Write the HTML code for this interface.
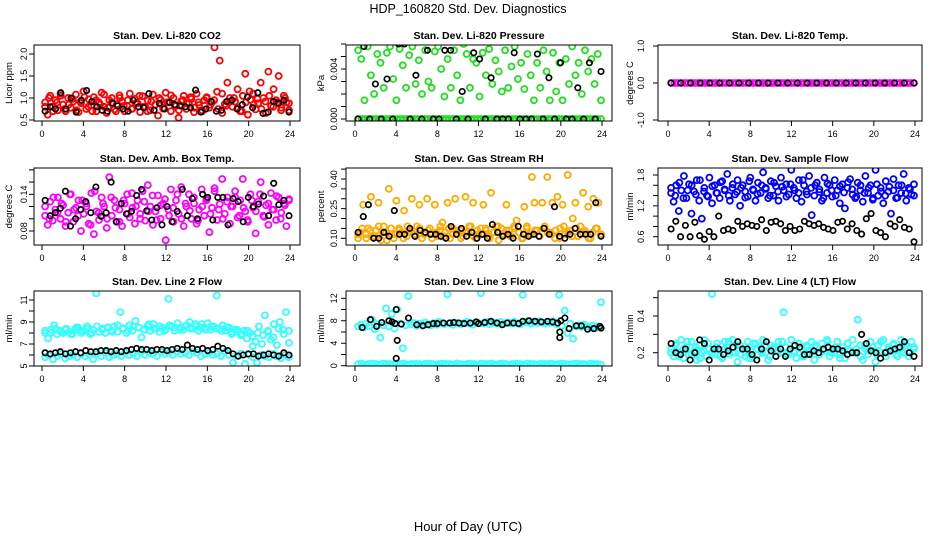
<!DOCTYPE html>
<html><head><meta charset="utf-8"><style>
body{margin:0;background:#fff;}
svg{display:block;font-family:"Liberation Sans",Arial,sans-serif;}
</style></head><body>
<svg id="chart" width="936" height="540" viewBox="0 0 936 540">
<text x="468" y="13" text-anchor="middle" font-size="12.5">HDP_160820  Std. Dev. Diagnostics</text>
<text x="468" y="531" text-anchor="middle" font-size="13">Hour of Day (UTC)</text>
</svg>
<script>
// ---------- data ----------
const xTicks=[0,4,8,12,16,20,24];
const co2Red=[0.9,0.62,1.05,0.8,0.95,0.72,1.1,0.85,0.7,1.0,0.78,0.92,1.08,0.68,0.88,1.15,0.75,0.97,0.83,1.02,0.7,0.9,1.12,0.8,0.66,0.95,1.0,0.74,0.86,1.06,0.92,0.7,0.82,1.1,0.76,0.98,0.88,0.68,1.04,0.8,0.94,0.72,1.08,0.85,0.6,0.96,0.78,1.12,0.9,0.7,1.0,0.82,0.55,0.93,1.05,0.75,0.88,0.98,0.68,1.1,0.84,0.72,0.95,1.02,0.78,0.9,2.15,1.14,1.85,0.66,0.86,1.35,1.0,0.8,0.92,1.2,0.7,1.05,1.55,0.62,0.96,1.1,0.74,0.88,1.35,1.0,0.66,1.6,0.82,1.2,0.95,1.5,0.78,1.05,0.9,0.72];
const co2Red2=[0.8,1.0,0.7,0.9,1.05,0.75,0.85,0.98,0.72,0.92,1.02,0.8,0.7,0.95,0.85,1.08,0.78,0.9,0.7,1.0,0.82,0.95,0.75,0.88,1.05,0.8,0.7,0.92,0.85,1.0,0.76,0.9,1.06,0.82,0.72,0.95,0.88,1.02,0.78,0.9,0.7,1.0,0.85,0.95,0.75,1.1,0.82,0.92,1.0,0.78,0.7,0.9,1.15,0.85,0.98,0.75,0.92,1.05,0.8,0.9,0.72,1.0,0.88];
const co2Black=[0.7,0.8,0.75,1.12,0.75,1.0,0.68,0.95,1.17,0.92,0.8,0.72,0.7,0.88,0.82,0.75,0.7,0.95,0.8,0.78,1.1,0.72,0.88,0.75,0.9,0.85,0.82,0.8,0.78,1.18,0.68,0.75,0.92,0.7,0.72,0.92,0.95,0.75,0.85,1.02,0.78,1.12,0.65,0.68,0.92,0.88,0.95,0.68];
const presGreen=[0.0055,0.0048,0.0015,0.0058,0.0035,0.002,0.0052,0.0045,0.0025,0.0053,0.0058,0.0032,0.0015,0.0056,0.0043,0.0025,0.0051,0.0058,0.0028,0.0047,0.002,0.0055,0.003,0.0025,0.0054,0.0058,0.004,0.0018,0.0048,0.0025,0.0055,0.0035,0.0015,0.006,0.0052,0.0025,0.0048,0.0045,0.0018,0.0053,0.0035,0.0056,0.0028,0.0047,0.0038,0.0022,0.0055,0.0025,0.0042,0.0058,0.0032,0.0045,0.0024,0.0052,0.0035,0.0015,0.0045,0.0025,0.0055,0.0038,0.0015,0.0053,0.0022,0.0045,0.0015,0.0048,0.0028,0.0058,0.0035,0.0045,0.002,0.0055,0.0038,0.0048,0.0028,0.0052,0.0015];
const presGreenZero=[0,0,0,0,0,0,0,0,0,0,0,0,0,0,0,0,0,0,0,0,0,0,0,0,0,0,0,0,0,0,0,0,0,0,0,0,0,0,0,0,0,0,0,0,0,0,0,0,0,0,0,0,0,0,0,0,0,0,0,0,0,0,0,0,0,0,0,0,0,0];
const presBlack=[0,0.0058,0,0.0028,0,0.0032,0,0.006,0.006,0,0.0035,0,0.0055,0,0,0.0055,0.0055,0,0.0022,0,0.0053,0.0048,0,0.0033,0,0,0,0.0053,0,0,0,0.0052,0,0.0033,0,0.0045,0,0,0.0025,0,0.0045,0,0.0038];
const tempMag=[0,0,0,0,0,0,0,0,0,0,0,0,0,0,0,0,0,0,0,0,0,0,0,0,0,0,0,0,0,0,0,0,0,0,0,0,0,0,0,0,0,0,0,0,0,0,0,0,0,0,0,0,0,0,0,0,0,0,0,0,0,0,0,0,0,0,0,0,0,0,0,0];
const tempBlack=[0,0,0,0,0,0,0,0,0,0,0,0,0,0,0,0,0,0,0,0,0,0,0,0,0,0];
const boxMag=[0.105,0.09,0.128,0.097,0.115,0.135,0.1,0.122,0.088,0.11,0.14,0.095,0.118,0.13,0.08,0.108,0.125,0.092,0.142,0.075,0.112,0.098,0.135,0.12,0.085,0.168,0.105,0.13,0.095,0.115,0.088,0.125,0.14,0.102,0.118,0.092,0.13,0.108,0.145,0.097,0.155,0.12,0.09,0.112,0.138,0.1,0.125,0.065,0.115,0.148,0.095,0.13,0.108,0.152,0.088,0.12,0.14,0.1,0.125,0.092,0.115,0.148,0.105,0.133,0.078,0.118,0.15,0.098,0.124,0.165,0.108,0.135,0.092,0.12,0.145,0.102,0.13,0.165,0.112,0.095,0.14,0.118,0.076,0.128,0.16,0.105,0.122,0.09,0.142,0.115,0.098,0.135,0.11,0.125,0.088,0.13];
const boxMag2=[0.12,0.1,0.135,0.11,0.125,0.095,0.14,0.115,0.105,0.13,0.12,0.09,0.145,0.11,0.125,0.1,0.135,0.118,0.095,0.13,0.108,0.142,0.12,0.1,0.128,0.112,0.138,0.098,0.122,0.132,0.105,0.118,0.14,0.1,0.125,0.113,0.135,0.097,0.12,0.13,0.108,0.145,0.115,0.1,0.128,0.12,0.135,0.105,0.118,0.098,0.13,0.112,0.14,0.103,0.125,0.115,0.137,0.1,0.122,0.132];
const boxBlack=[0.13,0.105,0.11,0.117,0.145,0.088,0.1,0.115,0.128,0.11,0.152,0.104,0.11,0.16,0.095,0.125,0.108,0.112,0.138,0.148,0.113,0.098,0.118,0.09,0.12,0.095,0.112,0.148,0.105,0.133,0.1,0.14,0.135,0.098,0.135,0.135,0.09,0.133,0.128,0.095,0.135,0.12,0.124,0.137,0.105,0.158,0.123,0.13,0.105];
const rhOrange=[0.1,0.13,0.27,0.12,0.15,0.31,0.11,0.14,0.28,0.09,0.16,0.13,0.35,0.12,0.1,0.29,0.15,0.13,0.24,0.11,0.14,0.3,0.12,0.16,0.27,0.1,0.13,0.3,0.15,0.12,0.27,0.11,0.14,0.18,0.13,0.28,0.1,0.15,0.3,0.12,0.14,0.11,0.31,0.13,0.16,0.28,0.1,0.12,0.15,0.27,0.14,0.11,0.33,0.13,0.16,0.09,0.15,0.12,0.27,0.14,0.11,0.16,0.19,0.13,0.1,0.26,0.15,0.12,0.41,0.28,0.14,0.11,0.28,0.16,0.41,0.13,0.28,0.1,0.31,0.15,0.27,0.12,0.42,0.14,0.2,0.28,0.11,0.16,0.33,0.13,0.26,0.1,0.3,0.15,0.28,0.12];
const rhOrange2=[0.12,0.15,0.1,0.14,0.11,0.16,0.13,0.09,0.15,0.12,0.14,0.1,0.16,0.13,0.11,0.15,0.12,0.14,0.1,0.13,0.16,0.11,0.15,0.12,0.14,0.1,0.13,0.16,0.11,0.14,0.12,0.15,0.1,0.13,0.16,0.12,0.14,0.11,0.15,0.13,0.1,0.16,0.12,0.14,0.11,0.15,0.13,0.12,0.14,0.1,0.16,0.13,0.11,0.15,0.12,0.14,0.1,0.13,0.15,0.12];
const rhBlack=[0.13,0.21,0.27,0.1,0.1,0.13,0.11,0.24,0.12,0.12,0.15,0.11,0.14,0.13,0.12,0.12,0.11,0.1,0.16,0.12,0.15,0.11,0.13,0.1,0.12,0.1,0.17,0.13,0.11,0.12,0.1,0.16,0.12,0.11,0.12,0.11,0.15,0.12,0.26,0.11,0.1,0.12,0.15,0.12,0.12,0.12,0.28,0.11];
const sfBlue=[1.45,1.28,1.6,1.1,1.5,1.78,1.35,1.62,1.05,1.48,1.7,1.3,0.95,1.55,1.4,1.75,1.25,1.6,1.45,1.35,1.68,1.5,1.82,1.3,1.55,1.42,1.7,1.2,1.6,1.48,1.38,1.75,1.52,1.3,1.65,1.45,1.85,1.55,1.35,1.68,1.4,1.58,1.3,1.75,1.5,1.62,1.42,1.9,1.55,1.35,1.7,1.28,1.6,1.48,1.78,1.02,1.4,1.65,1.52,1.3,1.75,1.45,1.6,1.38,1.7,1.5,1.25,1.62,1.15,1.55,1.72,1.42,1.35,1.65,1.5,1.28,1.78,1.45,1.6,1.35,1.9,1.4,1.55,1.25,1.68,1.48,1.05,1.72,1.35,1.6,1.45,1.82,1.3,1.55,1.42,1.62];
const sfBlue2=[1.55,1.4,1.65,1.35,1.5,1.6,1.42,1.7,1.48,1.38,1.58,1.45,1.66,1.52,1.4,1.62,1.47,1.55,1.36,1.68,1.5,1.43,1.6,1.53,1.4,1.65,1.48,1.57,1.38,1.62,1.5,1.45,1.7,1.42,1.55,1.6,1.47,1.35,1.63,1.5,1.4,1.58,1.46,1.66,1.52,1.38,1.6,1.45,1.55,1.32,1.62,1.48,1.4,1.57,1.5,1.36,1.6,1.44,1.52,1.4];
const sfBlack=[0.75,0.9,0.6,0.82,0.6,0.88,0.62,0.55,0.7,0.6,1.0,0.72,0.75,0.72,0.9,0.8,0.85,0.82,0.8,0.93,0.72,0.88,0.9,0.85,0.72,0.8,0.72,0.75,0.9,0.85,0.82,0.85,0.78,0.75,0.72,0.88,0.9,0.75,0.85,0.72,0.65,0.95,1.05,0.72,0.68,0.6,0.85,0.8,0.93,0.78,0.75,0.5];
const l2CyanHigh=[8.0,7.5,8.3,8.7,7.9,8.2,8.0,8.4,8.1,7.9,8.3,8.5,8.0,8.2,8.6,7.9,8.3,11.6,8.1,8.4,8.0,8.5,8.2,8.6,8.1,9.9,8.4,8.0,8.7,8.2,9.1,8.5,7.6,8.3,8.6,8.2,8.8,8.4,8.1,8.5,8.3,11.1,8.6,8.2,8.9,8.5,8.3,8.7,9.0,8.4,8.6,8.2,8.8,8.5,8.9,8.3,8.6,11.4,8.4,8.7,8.2,8.5,7.9,8.3,8.1,7.8,8.2,7.5,8.0,6.8,7.2,8.6,7.0,9.6,8.2,7.4,8.8,6.9,9.0,8.3,9.9,7.1];
const l2CyanHigh2=[8.2,8.0,8.4,8.1,8.3,7.9,8.5,8.2,8.4,8.0,8.6,8.3,8.5,8.1,8.7,8.4,8.2,8.6,8.5,8.3,8.8,8.4,8.6,8.2,8.7,8.5,8.3,8.6,8.4,8.8,8.5,8.3,8.6,8.4,8.2,8.5,8.1,8.3,7.9,8.2,7.7,8.0,7.8,8.1,7.6,8.4,7.9,8.2];
const l2CyanLow=[5.8,6.0,5.6,5.9,6.1,5.7,5.9,6.0,5.8,6.1,5.9,6.0,5.6,6.1,5.9,6.2,5.8,6.0,6.1,5.9,6.2,6.0,6.1,5.9,6.3,6.0,6.2,6.1,5.9,6.3,6.1,6.2,6.0,6.3,6.1,6.2,6.0,6.3,6.2,5.9,6.1,6.2,6.0,6.1,5.9,6.3,6.0,5.3,5.9,6.1,5.2,6.0,5.8,5.3,6.0,5.9,5.8,6.1,5.9,5.7,6.0,5.8];
const l2Black=[6.2,6.1,6.2,6.3,6.1,6.2,6.3,6.2,6.4,6.3,6.3,6.4,6.4,6.3,6.4,6.3,6.4,6.5,6.6,6.5,6.5,6.4,6.5,6.5,6.4,6.5,6.6,6.5,6.9,6.6,6.5,6.6,6.4,6.5,6.8,6.6,6.4,6.1,5.9,6.0,6.1,6.1,5.9,6.0,6.1,6.0,5.9,6.2,6.0];
const l3CyanHigh=[7.0,7.3,6.8,7.5,7.1,8.2,6.5,7.4,5.0,7.2,10.2,7.0,9.2,6.6,10.0,7.5,3.1,7.2,12.4,7.4,7.6,7.1,7.5,7.3,7.7,7.4,7.2,7.6,7.3,7.8,7.5,7.4,12.7,7.6,7.3,7.7,7.5,7.4,7.6,7.8,7.5,7.3,7.7,7.6,12.9,7.5,7.8,7.4,7.6,7.7,7.5,7.8,7.4,7.6,7.7,7.5,7.8,7.6,7.4,12.6,7.7,7.9,7.5,7.8,7.6,7.9,7.7,7.5,7.8,7.6,7.9,7.4,12.6,7.1,9.8,5.8,7.5,4.8,7.0,7.2,6.9,7.3,7.0,6.8,7.1,6.7,7.0,11.3];
const l3CyanZero=[0.3,0.4,0.2,0.3,0.4,0.3,0.2,0.4,0.3,0.3,0.2,0.4,0.3,0.4,0.2,0.3,0.3,0.4,0.2,0.3,0.4,0.3,0.2,0.3,0.4,0.3,0.3,0.2,0.4,0.3,0.2,0.3,0.4,0.3,0.2,0.4,0.3,0.3,0.4,0.2,0.3,0.4,0.3,0.2,0.3,0.4,0.3,0.2,0.4,0.3,0.3,0.2,0.4,0.3,0.3,0.4,0.2,0.3,0.4,0.3,0.2,0.3,0.4,0.3,0.3,0.2,0.4,0.3,0.3,0.2];
const l3BlackHours=[0.7,1.5,2.1,2.6,3.3,3.6,3.9,4.0,4.0,4.1,4.5,5.2,6.0,6.6,7.1,7.6,8.0,8.6,9.2,9.6,10.1,10.6,11.2,11.8,12.0,12.6,13.2,13.8,14.3,14.8,15.4,15.9,16.3,16.9,17.5,18.1,18.7,19.2,19.7,19.9,19.9,20.0,20.4,20.8,21.5,22.0,22.6,23.2,23.8,23.9];
const l3Black=[6.8,8.2,7.0,7.7,8.0,7.8,7.5,10.0,1.3,4.5,7.4,8.5,7.3,7.1,7.3,7.5,7.5,7.6,7.6,7.7,7.6,7.5,7.6,7.8,7.5,7.7,7.9,7.6,7.3,7.6,7.6,7.5,7.9,8.0,7.9,7.8,7.9,7.8,7.6,6.0,5.0,8.0,8.5,6.6,7.1,7.1,6.5,6.6,7.0,6.7];
const l4Cyan=[0.22,0.18,0.25,0.2,0.27,0.17,0.23,0.19,0.26,0.21,0.16,0.24,0.2,0.27,0.18,0.22,0.52,0.19,0.25,0.21,0.17,0.26,0.23,0.19,0.27,0.2,0.15,0.24,0.22,0.18,0.26,0.21,0.17,0.25,0.19,0.23,0.27,0.2,0.16,0.24,0.22,0.18,0.26,0.2,0.42,0.23,0.19,0.27,0.21,0.17,0.25,0.22,0.18,0.24,0.2,0.26,0.16,0.23,0.19,0.25,0.21,0.27,0.18,0.22,0.2,0.26,0.19,0.23,0.17,0.25,0.21,0.27,0.2,0.38,0.24,0.16,0.22,0.19,0.26,0.21,0.15,0.24,0.2,0.27,0.18,0.23,0.21,0.25,0.19,0.22,0.27,0.2,0.24,0.18,0.26,0.22];
const l4Cyan2=[0.2,0.24,0.18,0.22,0.26,0.19,0.23,0.17,0.21,0.25,0.2,0.23,0.18,0.22,0.26,0.2,0.24,0.19,0.21,0.17,0.25,0.22,0.2,0.24,0.18,0.23,0.21,0.26,0.19,0.22,0.2,0.25,0.18,0.23,0.21,0.24,0.19,0.22,0.26,0.2,0.23,0.17,0.21,0.25,0.2,0.22,0.18,0.24,0.21,0.23,0.19,0.26,0.2,0.22,0.24,0.18,0.21,0.25,0.2,0.23];
const l4Black=[0.25,0.2,0.19,0.22,0.16,0.2,0.27,0.25,0.16,0.22,0.22,0.19,0.21,0.23,0.26,0.22,0.22,0.19,0.16,0.22,0.26,0.21,0.18,0.22,0.18,0.22,0.24,0.23,0.19,0.19,0.21,0.2,0.22,0.23,0.22,0.22,0.21,0.19,0.2,0.2,0.3,0.25,0.21,0.2,0.17,0.2,0.21,0.22,0.23,0.26,0.2,0.18];
const yt1=[0.5,1.0,1.5,2.0], yl1=["0.5","1.0","1.5","2.0"];
const yt2=[0,0.001,0.002,0.003,0.004,0.005,0.006], yl2=["0.000","","","","0.004","",""];
const yt3=[-1,0,1], yl3=["-1.0","0.0","1.0"];
const yt4=[0.08,0.10,0.12,0.14,0.16,0.18], yl4=["0.08","","","0.14","",""];
const yt5=[0.10,0.15,0.20,0.25,0.30,0.35,0.40,0.45], yl5=["0.10","","","0.25","","","0.40",""];
const yt6=[0.6,0.8,1.0,1.2,1.4,1.6,1.8], yl6=["0.6","","","1.2","","","1.8"];
const yt7=[5,6,7,8,9,10,11], yl7=["5","","7","","9","","11"];
const yt8=[0,2,4,6,8,10,12], yl8=["0","","4","","8","","12"];
const yt9=[0.2,0.3,0.4,0.5], yl9=["0.2","","0.4",""];

// ---------- layout (positions only) ----------
const cols=[{l:34,r:300,x0:42,x24:290,tl:27,yl:9},{l:346,r:612,x0:355,x24:602,tl:337,yl:321},{l:658,r:922,x0:668,x24:915,tl:644,yl:630}];
const rows=[{t:45,b:121},{t:168,b:245},{t:291,b:366}];
const panels=[
 {c:0,r:0,title:"Stan. Dev. Li-820 CO2",ylab:"Licor ppm",v0:0.5,p0:120,v1:2.0,p1:54,yt:yt1,yl:yl1,series:[[co2Red,"#ff0000"],[co2Red2,"#ff0000"],[co2Black,"#000"]]},
 {c:1,r:0,title:"Stan. Dev. Li-820 Pressure",ylab:"kPa",v0:0,p0:119,v1:0.004,p1:69,yt:yt2,yl:yl2,series:[[presGreenZero,"#22dd22"],[presGreen,"#22dd22"],[presBlack,"#000"]]},
 {c:2,r:0,title:"Stan. Dev. Li-820 Temp.",ylab:"degrees C",v0:-1,p0:120,v1:1,p1:46,yt:yt3,yl:yl3,series:[[tempMag,"#ff00ff"],[tempBlack,"#000"]]},
 {c:0,r:1,title:"Stan. Dev. Amb. Box Temp.",ylab:"degrees C",v0:0.08,p0:231,v1:0.14,p1:194.3,yt:yt4,yl:yl4,series:[[boxMag,"#ff00ff"],[boxMag2,"#ff00ff"],[boxBlack,"#000"]]},
 {c:1,r:1,title:"Stan. Dev. Gas Stream RH",ylab:"percent",v0:0.10,p0:238.3,v1:0.40,p1:179,yt:yt5,yl:yl5,series:[[rhOrange,"#ffaa00"],[rhOrange2,"#ffaa00"],[rhBlack,"#000"]]},
 {c:2,r:1,title:"Stan. Dev. Sample Flow",ylab:"ml/min",v0:0.6,p0:236.7,v1:1.8,p1:175,yt:yt6,yl:yl6,series:[[sfBlue,"#0000ff"],[sfBlue2,"#0000ff"],[sfBlack,"#000"]]},
 {c:0,r:2,title:"Stan. Dev. Line 2 Flow",ylab:"ml/min",v0:5,p0:366,v1:11,p1:300,yt:yt7,yl:yl7,series:[[l2CyanHigh,"#33ffff"],[l2CyanHigh2,"#33ffff"],[l2CyanLow,"#33ffff"],[l2Black,"#000"]]},
 {c:1,r:2,title:"Stan. Dev. Line 3 Flow",ylab:"ml/min",v0:0,p0:365.7,v1:12,p1:298.3,yt:yt8,yl:yl8,series:[[l3CyanZero,"#33ffff"],[l3CyanHigh,"#33ffff"],[l3Black,"#000",l3BlackHours]]},
 {c:2,r:2,title:"Stan. Dev. Line 4 (LT) Flow",ylab:"ml/min",v0:0.2,p0:352.7,v1:0.4,p1:316,yt:yt9,yl:yl9,series:[[l4Cyan,"#33ffff"],[l4Cyan2,"#33ffff"],[l4Black,"#000"]]}
];
const NS="http://www.w3.org/2000/svg";
const svg=document.getElementById('chart');
function mk(tag,attrs,parent){const e=document.createElementNS(NS,tag);for(const k in attrs)e.setAttribute(k,attrs[k]);(parent||svg).appendChild(e);return e;}
panels.forEach((p,pi)=>{
 const C=cols[p.c],R=rows[p.r];
 const xs=h=>C.x0+(C.x24-C.x0)*h/24;
 const ys=v=>p.p0+(p.p1-p.p0)*(v-p.v0)/(p.v1-p.v0);
 const g=mk('g',{});
 
 
 const cx=(C.l+C.r)/2;
 const t=mk('text',{x:cx,y:R.t-6,'text-anchor':'middle','font-size':'10.5','font-weight':'bold'},g);
 t.textContent=p.title;
 
 
 const clip=mk('clipPath',{id:'cp'+pi},g);
 mk('rect',{x:C.l,y:R.t,width:C.r-C.l,height:R.b-R.t},clip);
 const pts=mk('g',{'clip-path':'url(#cp'+pi+')'},g);
 p.series.forEach(s=>{
  const vals=s[0],col=s[1],hrs=s[2];const n=vals.length;const blk=col==="#000";
  vals.forEach((v,i)=>{
   const h=hrs?hrs[i]:(0.3+23.6*i/(n-1));
   const c=mk('circle',{cx:xs(h).toFixed(1),cy:ys(v).toFixed(1),r:blk?2.7:3,fill:'none',stroke:col,'stroke-width':blk?1.7:1.8},pts);
   
   
  });
 });
 const fr=mk('rect',{x:C.l,y:R.t,width:C.r-C.l,height:R.b-R.t,fill:'none',stroke:'#000','stroke-width':1},g);
 
 
 xTicks.forEach(h=>{
  const x=xs(h);
  mk('line',{x1:x,y1:R.b,x2:x,y2:R.b+5,stroke:'#000'},g);
  const tx=mk('text',{x:x,y:R.b+16,'text-anchor':'middle','font-size':'9'},g);
  tx.textContent=h;
  
  
 });
 p.yt.forEach((v,i)=>{
  const y=ys(v);
  mk('line',{x1:C.l-5,y1:y,x2:C.l,y2:y,stroke:'#000'},g);
  if(p.yl[i]){
   const ty=mk('text',{x:C.tl,y:y,'text-anchor':'middle','font-size':'9',transform:'rotate(-90 '+C.tl+' '+y+')'},g);
   ty.textContent=p.yl[i];
   
   
  }
 });
 const my=(R.t+R.b)/2;
 const yl=mk('text',{x:C.yl+3,y:my,'text-anchor':'middle','font-size':'9.5',transform:'rotate(-90 '+(C.yl+3)+' '+my+')'},g);
 yl.textContent=p.ylab;
 
 
});
</script>
</body></html>
